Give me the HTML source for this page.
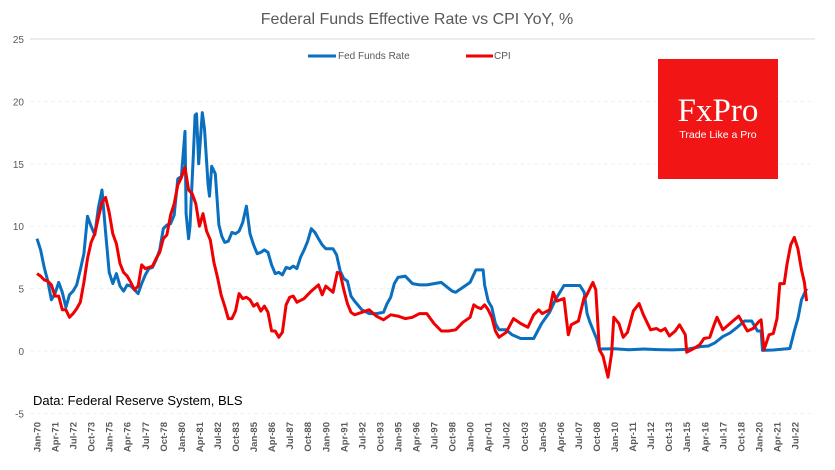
<!DOCTYPE html>
<html><head><meta charset="utf-8"><style>
body{margin:0;background:#fff;}
svg{display:block;font-family:"Liberation Sans",sans-serif;}
</style></head><body>
<svg id="chart" width="835" height="470">
<text x="417" y="24" text-anchor="middle" font-size="16" fill="#595959">Federal Funds Effective Rate vs CPI YoY, %</text>
<g id="grid"></g>
<g id="yaxis"></g>
<g id="xaxis"></g>
<g>
<g><line x1="308" y1="56" x2="336" y2="56" stroke="#0a6fbf" stroke-width="3"/><text x="338" y="59" font-size="10" fill="#595959">Fed Funds Rate</text></g>
<g><line x1="466" y1="56" x2="493" y2="56" stroke="#f00000" stroke-width="3"/><text x="494" y="59" font-size="10" fill="#595959">CPI</text></g>
</g>
<g>
<rect x="658" y="59" width="120" height="120" fill="#f21515"/>
<text x="718" y="121" text-anchor="middle" font-family="Liberation Serif,serif" font-size="33" fill="#fff">FxPro</text>
<text x="718" y="138" text-anchor="middle" font-size="10.5" fill="#fff">Trade Like a Pro</text>
</g>
<text x="33" y="405" font-size="13" fill="#000">Data: Federal Reserve System, BLS</text>
<g id="series"></g>
</svg>
<script>
const yTicks=[25,20,15,10,5,0,-5];
const xLabels=["Jan-70","Apr-71","Jul-72","Oct-73","Jan-75","Apr-76","Jul-77","Oct-78","Jan-80","Apr-81","Jul-82","Oct-83","Jan-85","Apr-86","Jul-87","Oct-88","Jan-90","Apr-91","Jul-92","Oct-93","Jan-95","Apr-96","Jul-97","Oct-98","Jan-00","Apr-01","Jul-02","Oct-03","Jan-05","Apr-06","Jul-07","Oct-08","Jan-10","Apr-11","Jul-12","Oct-13","Jan-15","Apr-16","Jul-17","Oct-18","Jan-20","Apr-21","Jul-22"];
const ffDates=[1970,1970.25,1970.5,1970.75,1971,1971.25,1971.5,1971.75,1972,1972.25,1972.5,1972.75,1973,1973.25,1973.5,1973.75,1974,1974.25,1974.5,1974.75,1975,1975.25,1975.5,1975.75,1976,1976.25,1976.5,1976.75,1977,1977.25,1977.5,1977.75,1978,1978.25,1978.5,1978.75,1979,1979.25,1979.5,1979.75,1980,1980.25,1980.33,1980.5,1980.6,1980.83,1980.95,1981.05,1981.2,1981.45,1981.6,1981.85,1981.95,1982.1,1982.35,1982.6,1982.8,1983,1983.25,1983.5,1983.75,1984,1984.25,1984.5,1984.75,1985,1985.25,1985.5,1985.75,1986,1986.25,1986.5,1986.75,1987,1987.25,1987.5,1987.75,1988,1988.25,1988.5,1988.75,1989,1989.25,1989.5,1989.75,1990,1990.5,1990.75,1991,1991.25,1991.5,1991.75,1992,1992.5,1993,1993.5,1994,1994.25,1994.5,1994.75,1995,1995.5,1996,1996.5,1997,1998,1998.75,1999,1999.5,2000,2000.4,2000.9,2001,2001.25,2001.5,2001.75,2002,2002.5,2002.9,2003.5,2004.4,2004.95,2005.5,2005.95,2006.5,2007,2007.6,2007.9,2008.1,2008.3,2008.75,2008.95,2010,2011,2012,2013,2014,2015,2015.95,2016.5,2016.95,2017.5,2018,2018.5,2019,2019.5,2019.9,2020.15,2020.25,2021,2022.15,2022.45,2022.7,2022.95,2023.3];
const ffValues=[9.0,8.1,6.7,5.6,4.1,4.6,5.5,4.7,3.5,4.5,4.8,5.3,6.5,7.8,10.8,10.0,9.3,11.5,12.9,9.5,6.3,5.4,6.2,5.2,4.8,5.3,5.2,4.9,4.6,5.4,6.1,6.6,6.7,7.3,8.1,9.8,10.1,10.2,10.9,13.8,14.0,17.6,11,9.0,10,15.8,18.9,19.0,15.0,19.1,17.8,13.3,12.4,14.8,14.2,10.1,9.2,8.7,8.8,9.5,9.4,9.6,10.3,11.6,9.4,8.5,7.8,7.9,8.1,7.9,6.9,6.2,6.3,6.1,6.7,6.6,6.8,6.6,7.5,8.1,8.8,9.8,9.5,9.0,8.5,8.2,8.2,7.7,6.4,5.8,5.6,4.4,4.0,3.3,3.0,3.0,3.1,3.8,4.3,5.4,5.9,6.0,5.4,5.3,5.3,5.5,4.8,4.7,5.1,5.5,6.5,6.5,5.3,4.0,3.5,2.2,1.7,1.7,1.3,1.0,1.0,2.2,3.1,4.2,5.25,5.25,5.25,4.7,3.0,2.3,1.0,0.16,0.18,0.1,0.16,0.11,0.09,0.13,0.35,0.4,0.66,1.15,1.45,1.9,2.4,2.4,1.6,1.6,0.05,0.08,0.2,1.6,2.6,4.1,5.0];
const cpiDates=[1970,1970.25,1970.5,1970.75,1971,1971.25,1971.5,1971.75,1972,1972.25,1972.5,1972.75,1973,1973.25,1973.5,1973.75,1974,1974.25,1974.5,1974.75,1975,1975.25,1975.5,1975.75,1976,1976.25,1976.5,1976.75,1977,1977.25,1977.5,1977.75,1978,1978.25,1978.5,1978.75,1979,1979.25,1979.5,1979.75,1980,1980.25,1980.5,1980.75,1981,1981.25,1981.5,1981.75,1982,1982.25,1982.5,1982.75,1983,1983.25,1983.5,1983.75,1984,1984.25,1984.5,1984.75,1985,1985.25,1985.5,1985.75,1986,1986.25,1986.5,1986.75,1987,1987.25,1987.5,1987.75,1988,1988.5,1989,1989.5,1989.75,1990,1990.5,1990.8,1991,1991.25,1991.5,1991.75,1992,1992.5,1993,1993.5,1994,1994.5,1995,1995.5,1996,1996.5,1997,1997.5,1998,1998.5,1999,1999.5,2000,2000.25,2000.5,2000.75,2001,2001.25,2001.5,2001.75,2002,2002.5,2003,2003.5,2004,2004.4,2004.75,2005,2005.5,2005.75,2006,2006.5,2006.8,2007,2007.5,2007.9,2008,2008.5,2008.7,2008.95,2009.2,2009.55,2009.8,2009.95,2010.3,2010.6,2010.9,2011.3,2011.7,2012,2012.5,2012.9,2013.2,2013.5,2013.8,2014.2,2014.5,2014.9,2015,2015.5,2015.9,2016.2,2016.6,2016.9,2017.1,2017.5,2017.9,2018.2,2018.6,2018.9,2019.2,2019.6,2019.95,2020.15,2020.35,2020.7,2021,2021.25,2021.45,2021.75,2021.95,2022.2,2022.45,2022.7,2022.95,2023.15,2023.3];
const cpiValues=[6.2,6.0,5.7,5.6,5.3,4.4,4.4,3.3,3.3,2.7,3.0,3.4,3.9,5.5,7.4,8.7,9.4,10.7,11.9,12.3,11.1,9.4,8.6,7.0,6.3,6.0,5.5,4.9,5.2,6.9,6.6,6.7,6.8,7.4,7.9,9.0,9.3,10.9,11.8,13.3,13.9,14.7,12.9,12.6,11.8,10.0,11.0,9.6,8.9,7.1,5.9,4.5,3.6,2.6,2.6,3.2,4.6,4.2,4.3,4.1,3.6,3.8,3.2,3.6,3.1,1.6,1.6,1.1,1.5,3.7,4.3,4.4,3.9,4.2,4.8,5.3,4.5,5.2,4.7,6.3,6.2,4.9,3.8,3.1,2.9,3.1,3.3,2.8,2.5,2.9,2.8,2.6,2.7,3.0,3.0,2.2,1.6,1.6,1.7,2.3,2.7,3.7,3.5,3.4,3.7,3.3,2.7,1.6,1.1,1.5,2.6,2.2,1.9,2.9,3.3,3.0,3.3,4.7,4.0,4.2,1.3,2.1,2.4,4.3,4.3,5.5,4.9,0.1,-0.4,-2.1,-0.2,2.7,2.2,1.1,1.5,3.2,3.8,2.9,1.7,1.8,1.6,1.8,1.2,1.6,2.1,1.3,-0.1,0.2,0.5,1.0,1.1,2.1,2.7,1.7,2.1,2.4,2.8,2.2,1.6,1.8,2.3,2.5,0.1,1.3,1.4,2.6,5.4,5.4,7.0,8.5,9.1,8.2,6.5,5.5,4.0];
const S=document.getElementById('chart');const NS='http://www.w3.org/2000/svg';
const X0=37,PXM=758/630;
function xs(d){return X0+(d-1970)*12*PXM;}
function ys(v){return 351-v*12.48;}
function mk(t,a,p){const e=document.createElementNS(NS,t);for(const k in a)e.setAttribute(k,a[k]);p.appendChild(e);return e;}
const grid=document.getElementById('grid'),ya=document.getElementById('yaxis'),xa=document.getElementById('xaxis'),se=document.getElementById('series');
yTicks.forEach(v=>{
 const l=mk('line',{x1:30,x2:815,y1:ys(v),y2:ys(v),stroke:v===25?'#d9d9d9':'#f0f0f0','stroke-dasharray':v===25?'':'4,3'},grid);
 
 
 const t=mk('text',{x:24,y:ys(v)+4,'text-anchor':'end','font-size':10,fill:'#595959'},ya);t.textContent=v;
 
 
});
xLabels.forEach((s,i)=>{
 const x=X0+i*15*PXM;
 const t=mk('text',{transform:`translate(${x+3.5},422) rotate(-90)`,'text-anchor':'end','font-size':9.5,'font-weight':'bold',fill:'#595959'},xa);t.textContent=s;
 
 
});
function path(ds,vs,c,name){
 const d=ds.map((q,i)=>(i?'L':'M')+xs(q).toFixed(1)+','+ys(vs[i]).toFixed(1)).join('');
 const p=mk('path',{d:d,fill:'none',stroke:c,'stroke-width':3,'stroke-linejoin':'round'},se);
 
 
}
path(ffDates,ffValues,'#0a6fbf','fed-funds-line');
path(cpiDates,cpiValues,'#f00000','cpi-line');
</script>
</body></html>
